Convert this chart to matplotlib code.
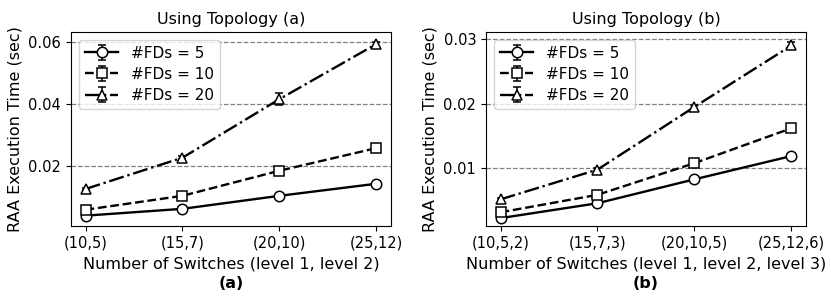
import numpy as np
import matplotlib.pyplot as plt

plt.rcParams['font.family'] = ['DejaVu Sans']

# Topology (a)
labels_a = ['(10,5)', '(15,7)', '(20,10)', '(25,12)']
fd5_a = [0.0040, 0.0062, 0.0104, 0.0143]
fd10_a = [0.0059, 0.0104, 0.0185, 0.0258]
fd20_a = [0.0126, 0.0227, 0.0416, 0.0594]
err5_a = [0.0003, 0.0003, 0.0003, 0.0003]
err10_a = [0.0003, 0.0003, 0.0004, 0.0004]
err20_a = [0.0004, 0.0004, 0.0019, 0.0008]

# Topology (b)
labels_b = ['(10,5,2)', '(15,7,3)', '(20,10,5)', '(25,12,6)']
fd5_b = [0.0023, 0.0046, 0.0083, 0.0119]
fd10_b = [0.0032, 0.0059, 0.0108, 0.0162]
fd20_b = [0.0052, 0.0098, 0.0195, 0.0290]
err5_b = [0.0002, 0.0002, 0.0002, 0.0003]
err10_b = [0.0002, 0.0002, 0.0002, 0.0003]
err20_b = [0.0002, 0.0002, 0.0003, 0.0006]

fig = plt.figure(figsize=(8.31, 3.04), dpi=100)
ax1 = fig.add_axes([0.0854, 0.257, 0.385, 0.638])
ax2 = fig.add_axes([0.5848, 0.257, 0.385, 0.638])


def draw(ax, labels, series, errs, title, xlabel, ylim, yticks):
    x = np.arange(len(labels))
    styles = [('-', 'o', '#FDs = 5'), ('--', 's', '#FDs = 10'), ('-.', '^', '#FDs = 20')]
    for (ls, mk, lab), y, e in zip(styles, series, errs):
        ax.errorbar(x, y, yerr=e, color='black', ls=ls, lw=1.7, marker=mk,
                    ms=7.5, mfc='white', mec='black', mew=1.1, capsize=3,
                    elinewidth=1.1, label=lab)
    ax.set_xticks(x)
    ax.set_xticklabels(labels, fontsize=10.5)
    ax.set_xlim(-0.15, 3.15)
    ax.set_ylim(*ylim)
    ax.set_yticks(yticks)
    ax.tick_params(axis='y', labelsize=10.5)
    ax.yaxis.grid(True, ls='--', color='gray', lw=0.9)
    ax.set_axisbelow(True)
    ax.set_title(title, fontsize=11.5)
    ax.set_xlabel(xlabel, fontsize=11.5)
    ax.set_ylabel('RAA Execution Time (sec)', fontsize=11.5)
    ax.legend(loc='upper left', fontsize=11, handlelength=2.2, labelspacing=0.4)


draw(ax1, labels_a, [fd5_a, fd10_a, fd20_a], [err5_a, err10_a, err20_a],
     'Using Topology (a)', 'Number of Switches (level 1, level 2)',
     (0.0007, 0.0633), [0.02, 0.04, 0.06])
draw(ax2, labels_b, [fd5_b, fd10_b, fd20_b], [err5_b, err10_b, err20_b],
     'Using Topology (b)', 'Number of Switches (level 1, level 2, level 3)',
     (0.0011, 0.0311), [0.01, 0.02, 0.03])

fig.text(0.278, 0.066, '(a)', ha='center', va='center', fontsize=11.5, fontweight='bold')
fig.text(0.777, 0.066, '(b)', ha='center', va='center', fontsize=11.5, fontweight='bold')

fig.savefig('out.png', dpi=100)
